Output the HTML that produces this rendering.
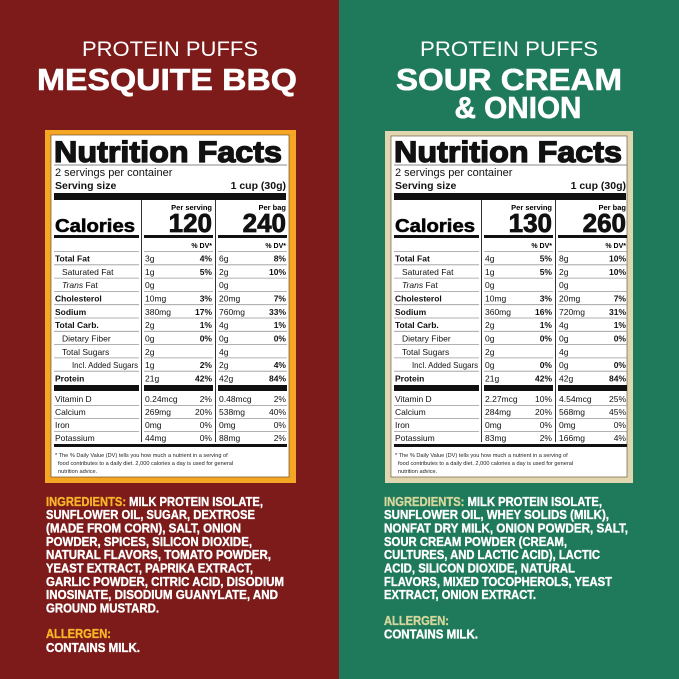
<!DOCTYPE html>
<html><head><meta charset="utf-8"><style>
html,body{margin:0;padding:0;width:679px;height:679px;overflow:hidden;}
svg{display:block;font-family:"Liberation Sans",sans-serif;}
</style></head><body>
<svg width="679" height="679" viewBox="0 0 679 679" xmlns="http://www.w3.org/2000/svg">
<defs>
<g id="grid">
  <rect x="54" y="193" width="232" height="7" fill="#111"/>
  <line x1="141.5" y1="200" x2="141.5" y2="442" stroke="#333" stroke-width="1"/>
  <line x1="215.5" y1="200" x2="215.5" y2="442" stroke="#333" stroke-width="1"/>
  <text x="212" y="210" font-size="7.5" font-weight="bold" text-anchor="end">Per serving</text>
  <text x="286" y="210" font-size="7.5" font-weight="bold" text-anchor="end">Per bag</text>
  <text x="55" y="232" font-size="18" font-weight="bold" stroke="#111" stroke-width="0.6" textLength="80" lengthAdjust="spacingAndGlyphs">Calories</text>
  <rect x="54" y="235" width="85" height="3" fill="#111"/>
  <rect x="144" y="235" width="69" height="3" fill="#111"/>
  <rect x="218" y="235" width="69" height="3" fill="#111"/>
  <text x="212" y="248" font-size="7" font-weight="bold" text-anchor="end">% DV*</text>
  <text x="286" y="248" font-size="7" font-weight="bold" text-anchor="end">% DV*</text>
  <g stroke="#999" stroke-width="0.8">
    <path d="M54 251.5H139M144 251.5H213M218 251.5H287 M54 264.8H139M144 264.8H213M218 264.8H287 M54 278.1H139M144 278.1H213M218 278.1H287 M54 291.4H139M144 291.4H213M218 291.4H287 M54 304.7H139M144 304.7H213M218 304.7H287 M54 318H139M144 318H213M218 318H287 M54 331.3H139M144 331.3H213M218 331.3H287 M54 344.6H139M144 344.6H213M218 344.6H287 M54 357.9H139M144 357.9H213M218 357.9H287 M54 371.2H139M144 371.2H213M218 371.2H287 M54 405.5H139M144 405.5H213M218 405.5H287 M54 418.5H139M144 418.5H213M218 418.5H287 M54 431.5H139M144 431.5H213M218 431.5H287"/>
  </g>
  <rect x="54" y="385" width="85" height="6" fill="#111"/>
  <rect x="144" y="385" width="69" height="6" fill="#111"/>
  <rect x="218" y="385" width="69" height="6" fill="#111"/>
  <rect x="54" y="444" width="233" height="3" fill="#111"/>
  <g font-size="8.5" fill="#111">
    <text x="55" y="261.5" font-weight="bold">Total Fat</text>
    <text x="62" y="275">Saturated Fat</text>
    <text x="62" y="288"><tspan font-style="italic">Trans</tspan> Fat</text>
    <text x="55" y="301.5" font-weight="bold">Cholesterol</text>
    <text x="55" y="315" font-weight="bold">Sodium</text>
    <text x="55" y="328" font-weight="bold">Total Carb.</text>
    <text x="62" y="341.5">Dietary Fiber</text>
    <text x="62" y="355">Total Sugars</text>
    <text x="72" y="368" textLength="66" lengthAdjust="spacingAndGlyphs">Incl. Added Sugars</text>
    <text x="55" y="381.5" font-weight="bold">Protein</text>
    <text x="55" y="402">Vitamin D</text>
    <text x="55" y="415">Calcium</text>
    <text x="55" y="428">Iron</text>
    <text x="55" y="441">Potassium</text>
  </g>
  <g font-size="5.6" fill="#222">
    <text x="55" y="457">* The % Daily Value (DV) tells you how much a nutrient in a serving of</text>
    <text x="58" y="465">food contributes to a daily diet. 2,000 calories a day is used for general</text>
    <text x="58" y="473">nutrition advice.</text>
  </g>
</g>
</defs>

<rect x="0" y="0" width="339" height="679" fill="#7c1b1a"/>
<rect x="339" y="0" width="340" height="679" fill="#1f7a5c"/>

<g fill="#fff" text-anchor="middle">
  <text x="170" y="56" font-size="21" textLength="176" lengthAdjust="spacingAndGlyphs">PROTEIN PUFFS</text>
  <text x="167" y="90" font-size="31" font-weight="bold" stroke="#fff" stroke-width="0.6" textLength="260" lengthAdjust="spacingAndGlyphs">MESQUITE BBQ</text>
  <text x="509" y="56" font-size="21" textLength="178" lengthAdjust="spacingAndGlyphs">PROTEIN PUFFS</text>
  <text x="509" y="90" font-size="31" font-weight="bold" stroke="#fff" stroke-width="0.6" textLength="226" lengthAdjust="spacingAndGlyphs">SOUR CREAM</text>
  <text x="518" y="118" font-size="31" font-weight="bold" stroke="#fff" stroke-width="0.6" textLength="127" lengthAdjust="spacingAndGlyphs">&amp; ONION</text>
</g>

<rect x="45" y="130" width="251" height="353" fill="#f5a623"/>
<rect x="51" y="135" width="238" height="342" fill="#fff" stroke="#5a3a1a" stroke-width="0.6"/>
<text x="54" y="162" font-size="30" font-weight="bold" stroke="#111" stroke-width="1.3" textLength="228" lengthAdjust="spacingAndGlyphs" fill="#111">Nutrition Facts</text>
<line x1="54" y1="165" x2="287" y2="165" stroke="#888" stroke-width="1"/>
<text x="55" y="176" font-size="11" fill="#111">2 servings per container</text>
<text x="55" y="189" font-size="10.5" font-weight="bold" fill="#111">Serving size</text>
<text x="286" y="189" font-size="10.5" font-weight="bold" text-anchor="end" fill="#111">1 cup (30g)</text>
<use href="#grid"/>
<g font-weight="bold" font-size="26" text-anchor="end" fill="#111" stroke="#111" stroke-width="0.8">
  <text x="212" y="232">120</text><text x="286" y="232">240</text>
</g>
<g font-size="8.5" fill="#111">
  <g><text x="145" y="261.5">3g</text><text x="219" y="261.5">6g</text><text x="145" y="275">1g</text><text x="219" y="275">2g</text><text x="145" y="288">0g</text><text x="219" y="288">0g</text><text x="145" y="301.5">10mg</text><text x="219" y="301.5">20mg</text><text x="145" y="315">380mg</text><text x="219" y="315">760mg</text><text x="145" y="328">2g</text><text x="219" y="328">4g</text><text x="145" y="341.5">0g</text><text x="219" y="341.5">0g</text><text x="145" y="355">2g</text><text x="219" y="355">4g</text><text x="145" y="368">1g</text><text x="219" y="368">2g</text><text x="145" y="381.5">21g</text><text x="219" y="381.5">42g</text><text x="145" y="402">0.24mcg</text><text x="219" y="402">0.48mcg</text><text x="145" y="415">269mg</text><text x="219" y="415">538mg</text><text x="145" y="428">0mg</text><text x="219" y="428">0mg</text><text x="145" y="441">44mg</text><text x="219" y="441">88mg</text></g>
  <g text-anchor="end" font-weight="bold"><text x="212" y="261.5">4%</text><text x="286" y="261.5">8%</text><text x="212" y="275">5%</text><text x="286" y="275">10%</text><text x="212" y="301.5">3%</text><text x="286" y="301.5">7%</text><text x="212" y="315">17%</text><text x="286" y="315">33%</text><text x="212" y="328">1%</text><text x="286" y="328">1%</text><text x="212" y="341.5">0%</text><text x="286" y="341.5">0%</text><text x="212" y="368">2%</text><text x="286" y="368">4%</text><text x="212" y="381.5">42%</text><text x="286" y="381.5">84%</text></g>
  <g text-anchor="end"><text x="212" y="402">2%</text><text x="286" y="402">2%</text><text x="212" y="415">20%</text><text x="286" y="415">40%</text><text x="212" y="428">0%</text><text x="286" y="428">0%</text><text x="212" y="441">0%</text><text x="286" y="441">2%</text></g>
</g>

<rect x="385" y="131" width="248" height="352" fill="#e0d6b0"/>
<g transform="translate(340,0)">
<rect x="51" y="136" width="236" height="341" fill="#fff" stroke="#5a4a2a" stroke-width="0.6"/>
<text x="54" y="162" font-size="30" font-weight="bold" stroke="#111" stroke-width="1.3" textLength="228" lengthAdjust="spacingAndGlyphs" fill="#111">Nutrition Facts</text>
<line x1="54" y1="165" x2="287" y2="165" stroke="#888" stroke-width="1"/>
<text x="55" y="176" font-size="11" fill="#111">2 servings per container</text>
<text x="55" y="189" font-size="10.5" font-weight="bold" fill="#111">Serving size</text>
<text x="286" y="189" font-size="10.5" font-weight="bold" text-anchor="end" fill="#111">1 cup (30g)</text>
<use href="#grid"/>
<g font-weight="bold" font-size="26" text-anchor="end" fill="#111" stroke="#111" stroke-width="0.8">
  <text x="212" y="232">130</text><text x="286" y="232">260</text>
</g>
<g font-size="8.5" fill="#111">
  <g><text x="145" y="261.5">4g</text><text x="219" y="261.5">8g</text><text x="145" y="275">1g</text><text x="219" y="275">2g</text><text x="145" y="288">0g</text><text x="219" y="288">0g</text><text x="145" y="301.5">10mg</text><text x="219" y="301.5">20mg</text><text x="145" y="315">360mg</text><text x="219" y="315">720mg</text><text x="145" y="328">2g</text><text x="219" y="328">4g</text><text x="145" y="341.5">0g</text><text x="219" y="341.5">0g</text><text x="145" y="355">2g</text><text x="219" y="355">4g</text><text x="145" y="368">0g</text><text x="219" y="368">0g</text><text x="145" y="381.5">21g</text><text x="219" y="381.5">42g</text><text x="145" y="402">2.27mcg</text><text x="219" y="402">4.54mcg</text><text x="145" y="415">284mg</text><text x="219" y="415">568mg</text><text x="145" y="428">0mg</text><text x="219" y="428">0mg</text><text x="145" y="441">83mg</text><text x="219" y="441">166mg</text></g>
  <g text-anchor="end" font-weight="bold"><text x="212" y="261.5">5%</text><text x="286" y="261.5">10%</text><text x="212" y="275">5%</text><text x="286" y="275">10%</text><text x="212" y="301.5">3%</text><text x="286" y="301.5">7%</text><text x="212" y="315">16%</text><text x="286" y="315">31%</text><text x="212" y="328">1%</text><text x="286" y="328">1%</text><text x="212" y="341.5">0%</text><text x="286" y="341.5">0%</text><text x="212" y="368">0%</text><text x="286" y="368">0%</text><text x="212" y="381.5">42%</text><text x="286" y="381.5">84%</text></g>
  <g text-anchor="end"><text x="212" y="402">10%</text><text x="286" y="402">25%</text><text x="212" y="415">20%</text><text x="286" y="415">45%</text><text x="212" y="428">0%</text><text x="286" y="428">0%</text><text x="212" y="441">2%</text><text x="286" y="441">4%</text></g>
</g>
</g>

<g font-size="12.5" font-weight="bold" fill="#fff" stroke="#fff" stroke-width="0.35">
  <text x="46" y="506" textLength="217" lengthAdjust="spacingAndGlyphs"><tspan fill="#f7b528" stroke="#f7b528">INGREDIENTS:</tspan> MILK PROTEIN ISOLATE,</text>
  <text x="46" y="519" textLength="209" lengthAdjust="spacingAndGlyphs">SUNFLOWER OIL, SUGAR, DEXTROSE</text>
  <text x="46" y="532.5" textLength="195" lengthAdjust="spacingAndGlyphs">(MADE FROM CORN), SALT, ONION</text>
  <text x="46" y="546" textLength="206" lengthAdjust="spacingAndGlyphs">POWDER, SPICES, SILICON DIOXIDE,</text>
  <text x="46" y="559" textLength="225" lengthAdjust="spacingAndGlyphs">NATURAL FLAVORS, TOMATO POWDER,</text>
  <text x="46" y="572.5" textLength="207" lengthAdjust="spacingAndGlyphs">YEAST EXTRACT, PAPRIKA EXTRACT,</text>
  <text x="46" y="586" textLength="238" lengthAdjust="spacingAndGlyphs">GARLIC POWDER, CITRIC ACID, DISODIUM</text>
  <text x="46" y="599" textLength="232" lengthAdjust="spacingAndGlyphs">INOSINATE, DISODIUM GUANYLATE, AND</text>
  <text x="46" y="612.5" textLength="113" lengthAdjust="spacingAndGlyphs">GROUND MUSTARD.</text>
  <text x="46" y="638" fill="#f7b528" stroke="#f7b528" textLength="65" lengthAdjust="spacingAndGlyphs">ALLERGEN:</text>
  <text x="46" y="652" textLength="94" lengthAdjust="spacingAndGlyphs">CONTAINS MILK.</text>
</g>

<g font-size="12.5" font-weight="bold" fill="#fff" stroke="#fff" stroke-width="0.35">
  <text x="384" y="506" textLength="218" lengthAdjust="spacingAndGlyphs"><tspan fill="#d6d79c" stroke="#d6d79c">INGREDIENTS:</tspan> MILK PROTEIN ISOLATE,</text>
  <text x="384" y="519" textLength="225" lengthAdjust="spacingAndGlyphs">SUNFLOWER OIL, WHEY SOLIDS (MILK),</text>
  <text x="384" y="532.5" textLength="244" lengthAdjust="spacingAndGlyphs">NONFAT DRY MILK, ONION POWDER, SALT,</text>
  <text x="384" y="546" textLength="183" lengthAdjust="spacingAndGlyphs">SOUR CREAM POWDER (CREAM,</text>
  <text x="384" y="559" textLength="216" lengthAdjust="spacingAndGlyphs">CULTURES, AND LACTIC ACID), LACTIC</text>
  <text x="384" y="572.5" textLength="191" lengthAdjust="spacingAndGlyphs">ACID, SILICON DIOXIDE, NATURAL</text>
  <text x="384" y="586" textLength="228" lengthAdjust="spacingAndGlyphs">FLAVORS, MIXED TOCOPHEROLS, YEAST</text>
  <text x="384" y="599" textLength="152" lengthAdjust="spacingAndGlyphs">EXTRACT, ONION EXTRACT.</text>
  <text x="384" y="625" fill="#d6d79c" stroke="#d6d79c" textLength="65" lengthAdjust="spacingAndGlyphs">ALLERGEN:</text>
  <text x="384" y="638.5" textLength="94" lengthAdjust="spacingAndGlyphs">CONTAINS MILK.</text>
</g>
</svg>
</body></html>
